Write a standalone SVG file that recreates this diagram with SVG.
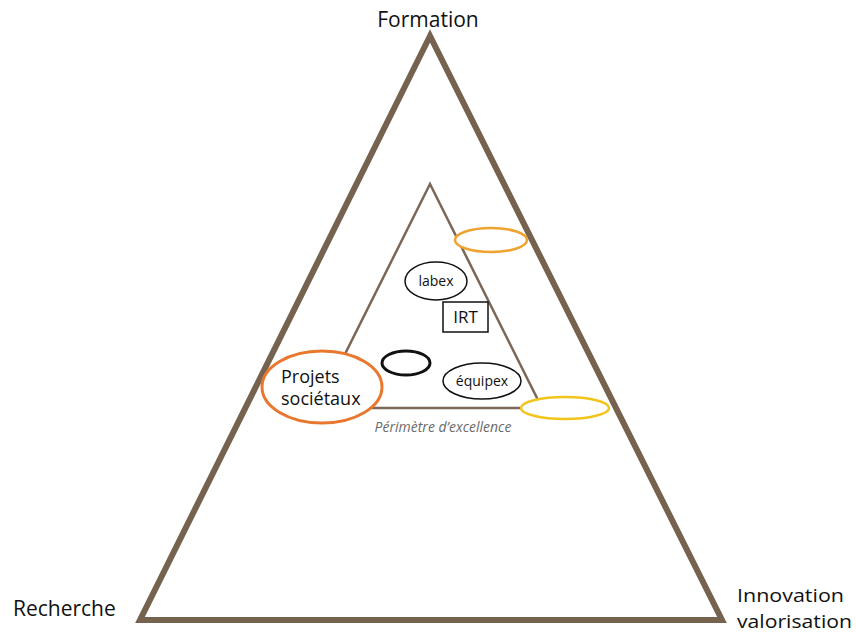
<svg xmlns="http://www.w3.org/2000/svg" width="856" height="634" viewBox="0 0 856 634">
  <style>
    .lbl { font-family: "Open Sans", "Liberation Sans", sans-serif; fill: #111; }
    .node { fill: none; stroke: #111; stroke-width: 1.5; }
  </style>
  <rect width="856" height="634" fill="#fff"/>

  <!-- outer triangle -->
  <g id="outer-triangle">
    <polygon points="430,36 140,620 722,620" fill="none" stroke="#75624f" stroke-width="6" stroke-linejoin="miter"/>
  </g>

  <!-- inner triangle: perimeter of excellence -->
  <g id="inner-triangle">
    <polygon points="430,184 318,408 542,408" fill="none" stroke="#7a6757" stroke-width="2.5"/>
  </g>

  <g id="corner-labels">
    <text class="lbl" x="428" y="27" font-size="21" text-anchor="middle">Formation</text>
    <text class="lbl" x="13" y="616" font-size="21">Recherche</text>
    <text class="lbl" x="737" y="602" font-size="19" textLength="107" lengthAdjust="spacingAndGlyphs">Innovation</text>
    <text class="lbl" x="737" y="628" font-size="19" textLength="115" lengthAdjust="spacingAndGlyphs">valorisation</text>
  </g>

  <g id="top-ellipse">
    <ellipse cx="491" cy="240" rx="36" ry="12" fill="#fff" stroke="#f0a22e" stroke-width="2.5"/>
  </g>

  <g id="labex">
    <ellipse class="node" cx="436" cy="281" rx="31" ry="19"/>
    <text class="lbl" x="436" y="286" font-size="14" text-anchor="middle">labex</text>
  </g>

  <g id="irt">
    <rect class="node" x="443" y="302" width="45" height="30" fill="#fff"/>
    <text class="lbl" x="465.5" y="323" font-size="17" text-anchor="middle">IRT</text>
  </g>

  <g id="blank-node">
    <ellipse cx="406" cy="363" rx="24" ry="12" fill="none" stroke="#111" stroke-width="3"/>
  </g>

  <g id="equipex">
    <ellipse class="node" cx="482" cy="381" rx="39" ry="18"/>
    <text class="lbl" x="482" y="386" font-size="14" text-anchor="middle">équipex</text>
  </g>

  <g id="projets-societaux">
    <ellipse cx="322" cy="387" rx="60" ry="36" fill="#fff" stroke="#e8782e" stroke-width="3"/>
    <text class="lbl" x="281" y="383" font-size="18">Projets</text>
    <text class="lbl" x="281" y="405" font-size="18">sociétaux</text>
  </g>

  <g id="bottom-right-ellipse">
    <ellipse cx="565" cy="408" rx="44" ry="11" fill="#fff" stroke="#f3c41c" stroke-width="2.5"/>
  </g>

  <g id="perimeter-label">
    <text x="443" y="432" font-size="14" font-style="italic" font-family="'Open Sans', 'Liberation Sans', sans-serif" fill="#6a6a6a" text-anchor="middle">Périmètre d’excellence</text>
  </g>
</svg>
